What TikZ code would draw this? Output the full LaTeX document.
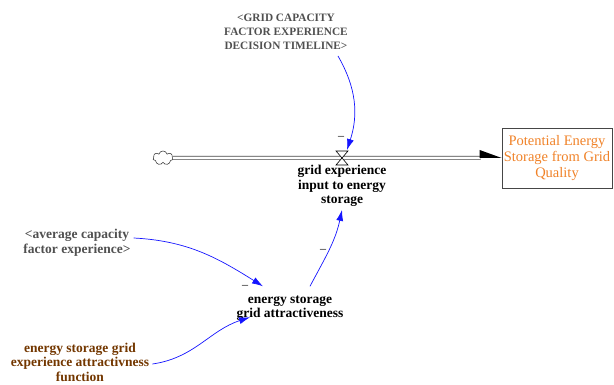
\documentclass[tikz,border=0pt]{standalone}
\usepackage{fontspec}
\setmainfont{Liberation Serif}
\usetikzlibrary{arrows.meta,shapes.symbols,calc}
\definecolor{stockorange}{RGB}{240,130,40}
\definecolor{shadowgrey}{RGB}{80,80,80}
\definecolor{constbrown}{RGB}{115,55,0}
\definecolor{linkblue}{RGB}{20,20,255}
\definecolor{pipegrey}{RGB}{70,70,70}
\tikzset{
  x=1pt, y=1pt,
  lbl/.style={align=center, inner sep=0pt, font=\bfseries\fontsize{13.5}{14.5}\selectfont},
  shadowlbl/.style={lbl, text=shadowgrey},
  caplbl/.style={shadowlbl, font=\bfseries\fontsize{11.3}{14}\selectfont},
  constlbl/.style={lbl, text=constbrown},
  stockbox/.style={draw=pipegrey, line width=0.6pt, minimum width=110pt, minimum height=60pt,
    align=center, text=stockorange, font=\fontsize{14.5}{16}\selectfont, inner sep=0pt},
  link/.style={draw=linkblue, line width=0.7pt, -{Latex[length=11pt,width=7pt]}},
  pipe/.style={draw=pipegrey, double=white, double distance=2.6pt, line width=0.7pt},
  polarity/.style={font=\fontsize{12}{12}\selectfont, inner sep=0pt},
}
\begin{document}
\begin{tikzpicture}
\useasboundingbox (0,0) rectangle (614,-385);
% stock and flow
\node[stockbox] (stock) at (557,-158) {Potential Energy\\Storage from Grid\\Quality};
\node[cloud, cloud puffs=7, draw=pipegrey, line width=0.6pt, minimum width=20pt, minimum height=14pt, inner sep=0pt, aspect=1.4] (cloud) at (163,-158) {};
\coordinate (valve) at (342,-158);
\draw[pipe] (cloud.east) -- ([xshift=-21pt]stock.west);
\fill[black] ([xshift=-22pt]stock.west) ++(0,8) -- (stock.west) -- ([xshift=-22pt]stock.west) ++(0,-8) -- cycle;
\draw[black, line width=0.6pt, fill=white] ($(valve)+(-6,7)$) -- ($(valve)+(6,7)$) -- ($(valve)+(-6,-7)$) -- ($(valve)+(6,-7)$) -- cycle;
\node[lbl] (flow) at (342,-186) {grid experience\\input to energy\\storage};
% variables
\node[caplbl] (gcf) at (286,-32) {<GRID CAPACITY\\FACTOR EXPERIENCE\\DECISION TIMELINE>};
\node[shadowlbl] (acf) at (77,-243) {<average capacity\\factor experience>};
\node[lbl] (esga) at (290,-308) {energy storage\\grid attractiveness};
\node[constlbl] (esgf) at (80,-362) {energy storage grid\\experience attractivness\\function};
% links
\draw[link] ([xshift=-10pt,yshift=-6pt]gcf.south east) to[out=-60,in=72] ($(valve)+(5,8)$);
\draw[link] ([xshift=3pt,yshift=5pt]acf.east) to[out=-3,in=148] ($(esga.north)+(-27,9)$);
\draw[link] ([xshift=3pt,yshift=-2pt]esgf.east) to[out=8,in=198] ($(esga.north)+(-40,-22)$);
\draw[link] ($(esga.north)+(20,9)$) to[out=62,in=-102] ([yshift=-3pt]flow.south);
% polarities
\node[polarity] (p1) at (341,-136) {\_};
\node[polarity] (p2) at (245,-285) {\_};
\node[polarity] (p3) at (323,-249) {\_};
\end{tikzpicture}
\end{document}
